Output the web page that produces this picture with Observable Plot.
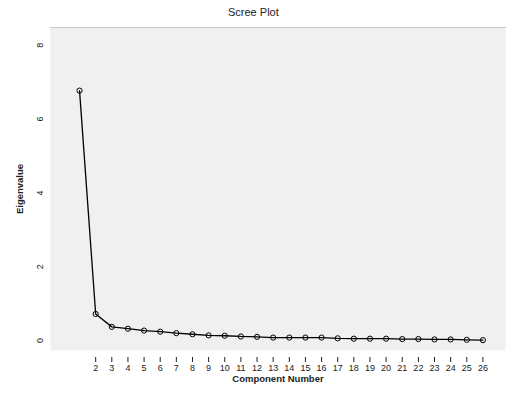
<!DOCTYPE html>
<html>
<head>
<meta charset="utf-8">
<script src="https://cdn.jsdelivr.net/npm/d3@7"></script>
<script src="https://cdn.jsdelivr.net/npm/@observablehq/plot@0.6"></script>
<style>
  body { margin: 0; background: white; font-family: "Liberation Sans", Arial, sans-serif; }
  #title { width: 511px; height: 20px; box-sizing: border-box; padding-top: 6px; text-align: left; font-size: 11px; color: #222; }
  #title span { display: inline-block; margin-left: 228px; }
</style>
</head>
<body>
<div id="title"><span>Scree Plot</span></div>
<div id="chart"></div>
<script>
const components = [1,2,3,4,5,6,7,8,9,10,11,12,13,14,15,16,17,18,19,20,21,22,23,24,25,26];
const eigenvalues = [6.77,0.72,0.37,0.32,0.27,0.24,0.20,0.17,0.14,0.13,0.11,0.10,0.08,0.08,0.08,0.08,0.06,0.05,0.05,0.05,0.04,0.04,0.03,0.03,0.02,0.01];
const xTickValues = [2,3,4,5,6,7,8,9,10,11,12,13,14,15,16,17,18,19,20,21,22,23,24,25,26];
const yTickValues = [0,2,4,6,8];

const data = components.map((c, i) => ({component: c, eigenvalue: eigenvalues[i]}));

const chart = Plot.plot({
  width: 511,
  height: 378,
  marginTop: 7,
  marginBottom: 48,
  marginLeft: 50,
  marginRight: 6,
  x: {domain: [-0.8, 27.4]},
  y: {domain: [-0.27, 8.48]},
  style: {fontFamily: "Liberation Sans, Arial, sans-serif", fontSize: "9px", background: "white", color: "#222"},
  marks: [
    Plot.frame({fill: "#f0f0f0", stroke: null}),
    Plot.frame({anchor: "top", stroke: "#c8c8c8", strokeWidth: 1}),
    Plot.axisY({ticks: yTickValues, tickSize: 0, tickPadding: 8, tickRotate: -90, label: "Eigenvalue", labelAnchor: "center", labelOffset: 34, fontSize: 9}),
    Plot.axisX({ticks: xTickValues, tickSize: 5, dy: 7, tickPadding: 2, label: "Component Number", labelAnchor: "center", labelOffset: 31}),
    Plot.line(data, {x: "component", y: "eigenvalue", stroke: "black", strokeWidth: 1.3}),
    Plot.dot(data, {x: "component", y: "eigenvalue", r: 2.6, stroke: "black", strokeWidth: 1, fill: "none"})
  ]
});
document.getElementById("chart").appendChild(chart);
// bold axis titles, without arrows
chart.querySelectorAll("g[aria-label='x-axis label'] text, g[aria-label='y-axis label'] text").forEach(t => {
  t.textContent = t.textContent.replace(/\s*[→↑←↓]\s*/g, "").trim();
  t.setAttribute("font-weight", "bold");
  t.setAttribute("font-size", "9.5");
});
</script>
</body>
</html>
